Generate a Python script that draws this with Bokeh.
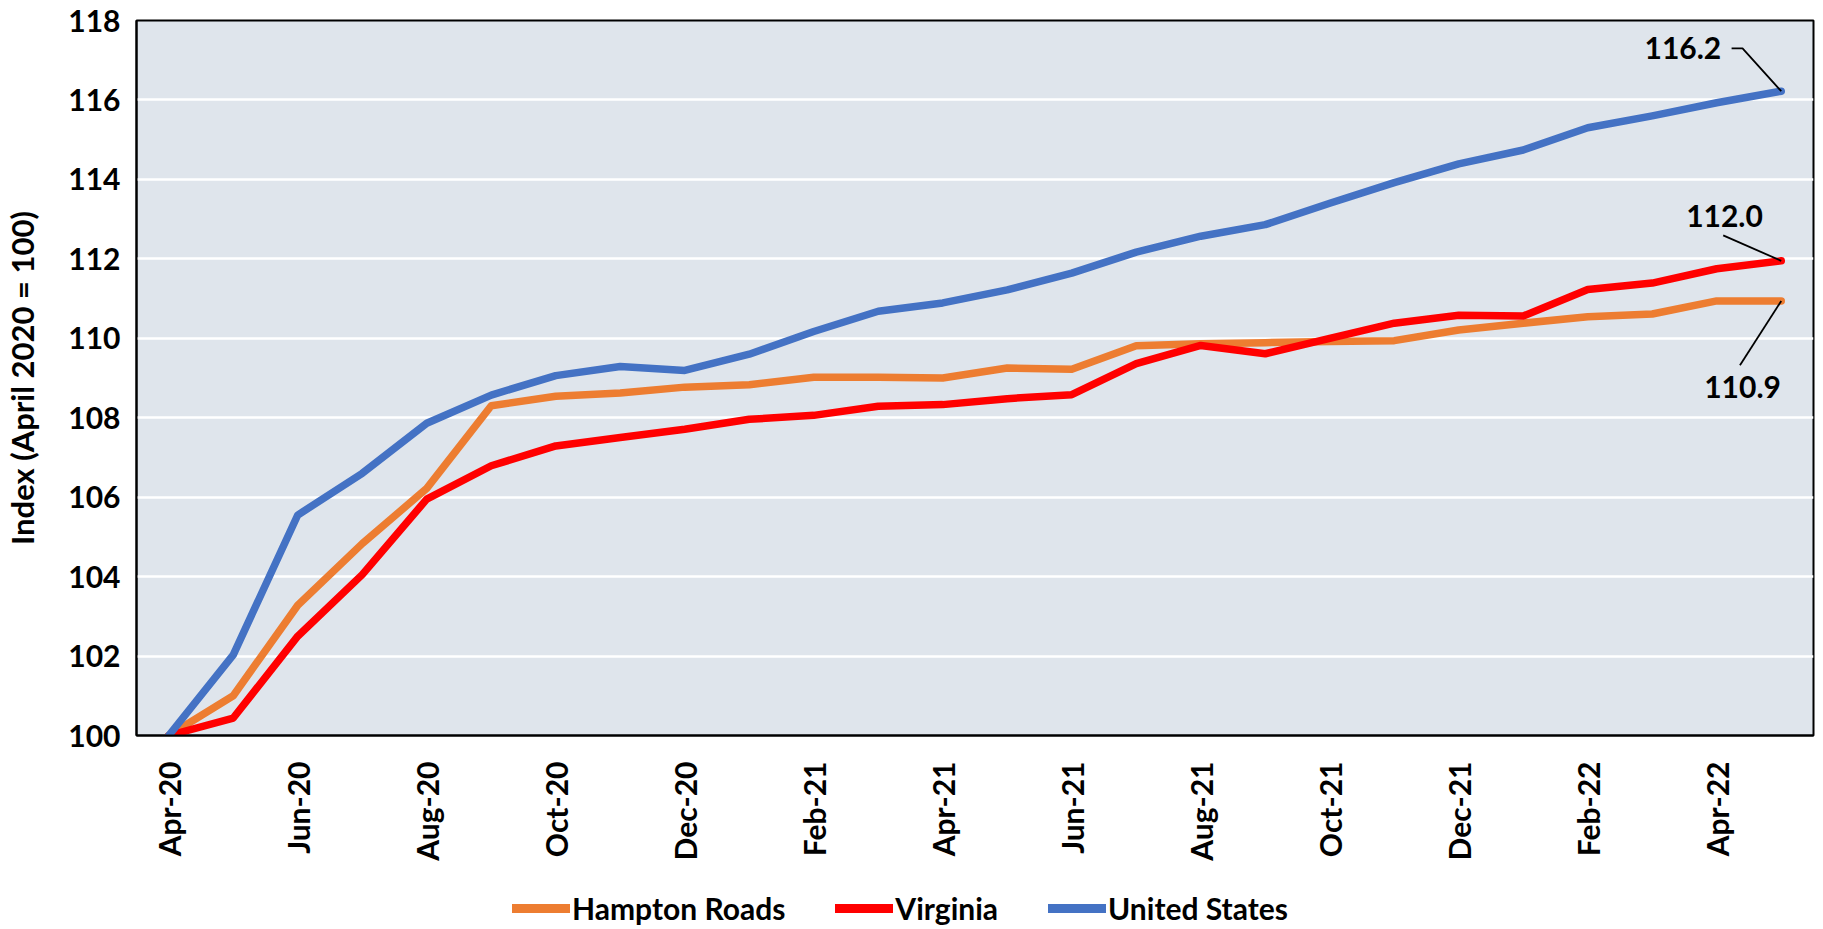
import math
from bokeh.plotting import figure
from bokeh.layouts import column
from bokeh.models import (ColumnDataSource, Range1d, FixedTicker, Legend, LegendItem)
from bokeh.core.properties import value
from bokeh.embed import file_html
from bokeh.resources import INLINE

months = ["Apr-20", "May-20", "Jun-20", "Jul-20", "Aug-20", "Sep-20", "Oct-20", "Nov-20",
          "Dec-20", "Jan-21", "Feb-21", "Mar-21", "Apr-21", "May-21", "Jun-21", "Jul-21",
          "Aug-21", "Sep-21", "Oct-21", "Nov-21", "Dec-21", "Jan-22", "Feb-22", "Mar-22",
          "Apr-22", "May-22"]

hampton_roads = [100.0, 101.0, 103.28, 104.83, 106.22, 108.3, 108.54, 108.62, 108.77, 108.83,
                 109.02, 109.02, 109.0, 109.25, 109.22, 109.81, 109.86, 109.89, 109.92, 109.94,
                 110.21, 110.38, 110.54, 110.61, 110.94, 110.94]
virginia = [100.0, 100.44, 102.5, 104.05, 105.95, 106.79, 107.29, 107.5, 107.71, 107.96,
            108.06, 108.29, 108.33, 108.48, 108.58, 109.36, 109.82, 109.61, 110.0, 110.38,
            110.58, 110.56, 111.23, 111.39, 111.75, 111.95]
united_states = [100.0, 102.03, 105.55, 106.6, 107.86, 108.57, 109.06, 109.29, 109.19, 109.6,
                 110.17, 110.68, 110.89, 111.22, 111.64, 112.17, 112.57, 112.86, 113.4, 113.92,
                 114.39, 114.74, 115.3, 115.6, 115.93, 116.22]

series_names = ["Hampton Roads", "Virginia", "United States"]
series_colors = ["#ED7D31", "#FF0000", "#4472C4"]
end_labels = ["110.9", "112.0", "116.2"]

y_ticks = [100, 102, 104, 106, 108, 110, 112, 114, 116, 118]

FONT = "Lato"
x = list(range(len(months)))
all_series = [hampton_roads, virginia, united_states]

p = figure(width=1815, height=872, output_backend="svg", toolbar_location=None,
           x_range=Range1d(-0.5, len(months) - 0.5), y_range=Range1d(100, 118))
p.min_border_left = 134
p.min_border_right = 2
p.min_border_top = 20
p.min_border_bottom = 137

p.background_fill_color = "#DFE5EC"
p.border_fill_color = "white"
p.outline_line_color = "black"
p.outline_line_width = 2

p.xgrid.grid_line_color = None
p.ygrid.grid_line_color = "white"
p.ygrid.grid_line_width = 2.5

p.xaxis.ticker = FixedTicker(ticks=x[::2])
p.xaxis.major_label_overrides = {i: months[i] for i in x}
p.xaxis.major_label_orientation = math.pi / 2
p.yaxis.ticker = FixedTicker(ticks=y_ticks)

for ax in (p.xaxis, p.yaxis):
    ax.axis_line_color = "black"
    ax.axis_line_width = 2
    ax.major_tick_line_color = None
    ax.minor_tick_line_color = None
    ax.major_label_text_font = FONT
    ax.major_label_text_font_style = "bold"
    ax.major_label_text_color = "black"

p.xaxis.major_label_text_font_size = "30px"
p.yaxis.major_label_text_font_size = "30px"
p.xaxis.major_label_standoff = 20
p.yaxis.major_label_standoff = 10
p.yaxis.axis_label = "Index (April 2020 = 100)"
p.yaxis.axis_label_text_font = FONT
p.yaxis.axis_label_text_font_style = "bold"
p.yaxis.axis_label_text_font_size = "31px"
p.yaxis.axis_label_text_color = "black"
p.yaxis.axis_label_standoff = 24

for name, vals, col in zip(series_names, all_series, series_colors):
    src = ColumnDataSource(dict(x=x, y=vals))
    p.line("x", "y", source=src, line_color=col, line_width=7.5,
           line_join="round", line_cap="round")

# end-of-series data labels with leader lines (offsets relative to the last point)
last = len(months) - 1
ends = [hampton_roads[-1], virginia[-1], united_states[-1]]
label_specs = [
    (-0.6, -2.16, [(-0.64, -1.62), (0.0, 0.0)]),
    (-0.88, 1.14, [(-0.9, 0.64), (0.0, 0.0)]),
    (-0.93, 1.08, [(-0.77, 1.08), (-0.6, 1.08), (0.0, 0.0)]),
]
for txt, yv, (tdx, tdy, pts), align in zip(end_labels, ends, label_specs, ["center", "center", "right"]):
    p.text(x=[last + tdx], y=[yv + tdy], text=[txt], text_font=value(FONT),
           text_font_style="bold", text_font_size="30px", text_color="black",
           text_align=align, text_baseline="middle")
    p.line(x=[last + d[0] for d in pts], y=[yv + d[1] for d in pts],
           line_color="black", line_width=1.8)

# legend strip below the chart (its series lines fall outside its 0..1 y range)
lg = figure(width=1815, height=54, output_backend="svg", toolbar_location=None,
            x_range=Range1d(0, 1), y_range=Range1d(0, 1))
lg.min_border = 0
lg.outline_line_color = None
lg.axis.visible = False
lg.grid.visible = False
lg.background_fill_color = "white"
items = []
for name, vals, col in zip(series_names, all_series, series_colors):
    r = lg.line(x=x, y=vals, line_color=col, line_width=9, line_cap="round")
    items.append(LegendItem(label=name, renderers=[r]))
legend = Legend(items=items, orientation="horizontal", location=(376, 0))
legend.background_fill_alpha = 0
legend.border_line_color = None
legend.padding = 0
legend.margin = 0
legend.spacing = 50
legend.glyph_width = 58
legend.glyph_height = 24
legend.label_standoff = 2
legend.label_text_font = FONT
legend.label_text_font_style = "bold"
legend.label_text_font_size = "30px"
legend.label_text_color = "black"
lg.add_layout(legend)

layout = column(p, lg, spacing=0)
open("out.html", "w").write(file_html(layout, INLINE))
